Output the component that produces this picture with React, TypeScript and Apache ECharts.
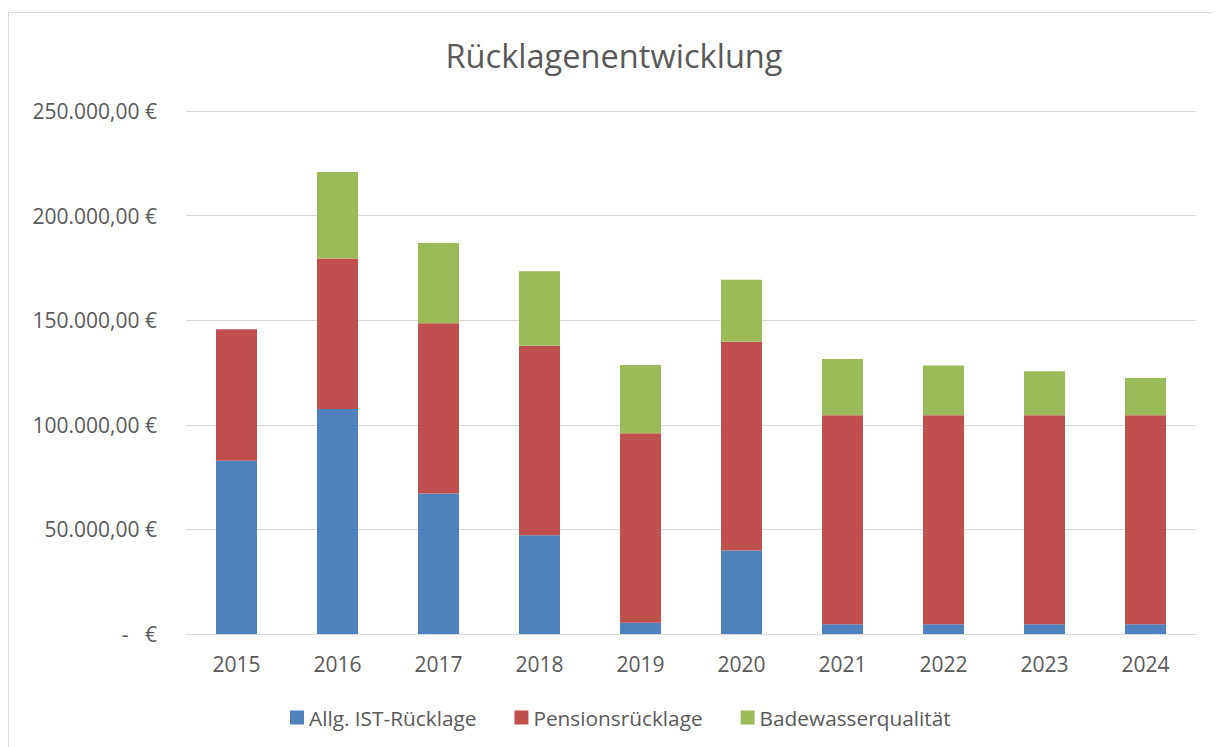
import React, { useEffect, useRef } from "react";
import * as echarts from "echarts";

const categories = ["2015", "2016", "2017", "2018", "2019", "2020", "2021", "2022", "2023", "2024"];
const allgIst = [82800, 107600, 67200, 47200, 5400, 39900, 4700, 4700, 4700, 4700];
const pension = [62900, 71900, 81300, 90600, 90600, 99800, 99900, 99900, 99900, 99900];
const badewasser = [0, 41400, 38400, 35600, 32600, 29600, 26900, 23800, 21000, 17800];
const seriesNames = ["Allg. IST-Rücklage", "Pensionsrücklage", "Badewasserqualität"];
const colors = ["#4F81BD", "#C0504D", "#9BBB59"];

const FONT = "'Open Sans', 'Noto Sans', sans-serif";
const TEXT = "#595959";

function fmt(v: number): string {
  if (v === 0) return "-   €";
  const s = Math.round(v).toString().replace(/\B(?=(\d{3})+(?!\d))/g, ".");
  return s + ",00 €";
}

export default function App() {
  const ref = useRef<HTMLDivElement>(null);
  useEffect(() => {
    if (!ref.current) return;
    const chart = echarts.init(ref.current, undefined, { renderer: "svg" });
    const values = [allgIst, pension, badewasser];
    chart.setOption({
      animation: false,
      backgroundColor: "#ffffff",
      color: colors,
      title: {
        text: "Rücklagenentwicklung",
        left: "center",
        top: 26,
        textStyle: { fontFamily: FONT, fontSize: 32.6, fontWeight: "normal", color: TEXT },
      },
      grid: { left: 178, right: 24, top: 103, bottom: 113, containLabel: false },
      legend: {
        bottom: 14,
        left: 277,
        itemWidth: 14,
        itemHeight: 14,
        itemGap: 38,
        icon: "rect",
        textStyle: { fontFamily: FONT, fontSize: 20.8, color: TEXT },
        data: seriesNames,
      },
      xAxis: {
        type: "category",
        data: categories,
        axisLine: { lineStyle: { color: "#D9D9D9", width: 1 } },
        axisTick: { show: false },
        axisLabel: { fontFamily: FONT, fontSize: 21, color: TEXT, margin: 19 },
      },
      yAxis: {
        type: "value",
        min: 0,
        max: 250000,
        interval: 50000,
        axisLine: { show: false },
        axisTick: { show: false },
        splitLine: { lineStyle: { color: "#D9D9D9", width: 1 } },
        axisLabel: { fontFamily: FONT, fontSize: 21, color: TEXT, margin: 29, formatter: (v: number) => fmt(v) },
      },
      graphic: [
        {
          type: "rect",
          shape: { x: 0.5, y: 4.5, width: 1300, height: 760 },
          style: { fill: "none", stroke: "#D9D9D9", lineWidth: 1 },
          silent: true,
        },
      ],
      series: seriesNames.map((name, i) => ({
        name,
        type: "bar",
        stack: "total",
        barWidth: 41,
        data: values[i],
        itemStyle: { color: colors[i] },
      })),
    });
    return () => chart.dispose();
  }, []);
  return <div ref={ref} style={{ width: 1212, height: 739 }} />;
}
